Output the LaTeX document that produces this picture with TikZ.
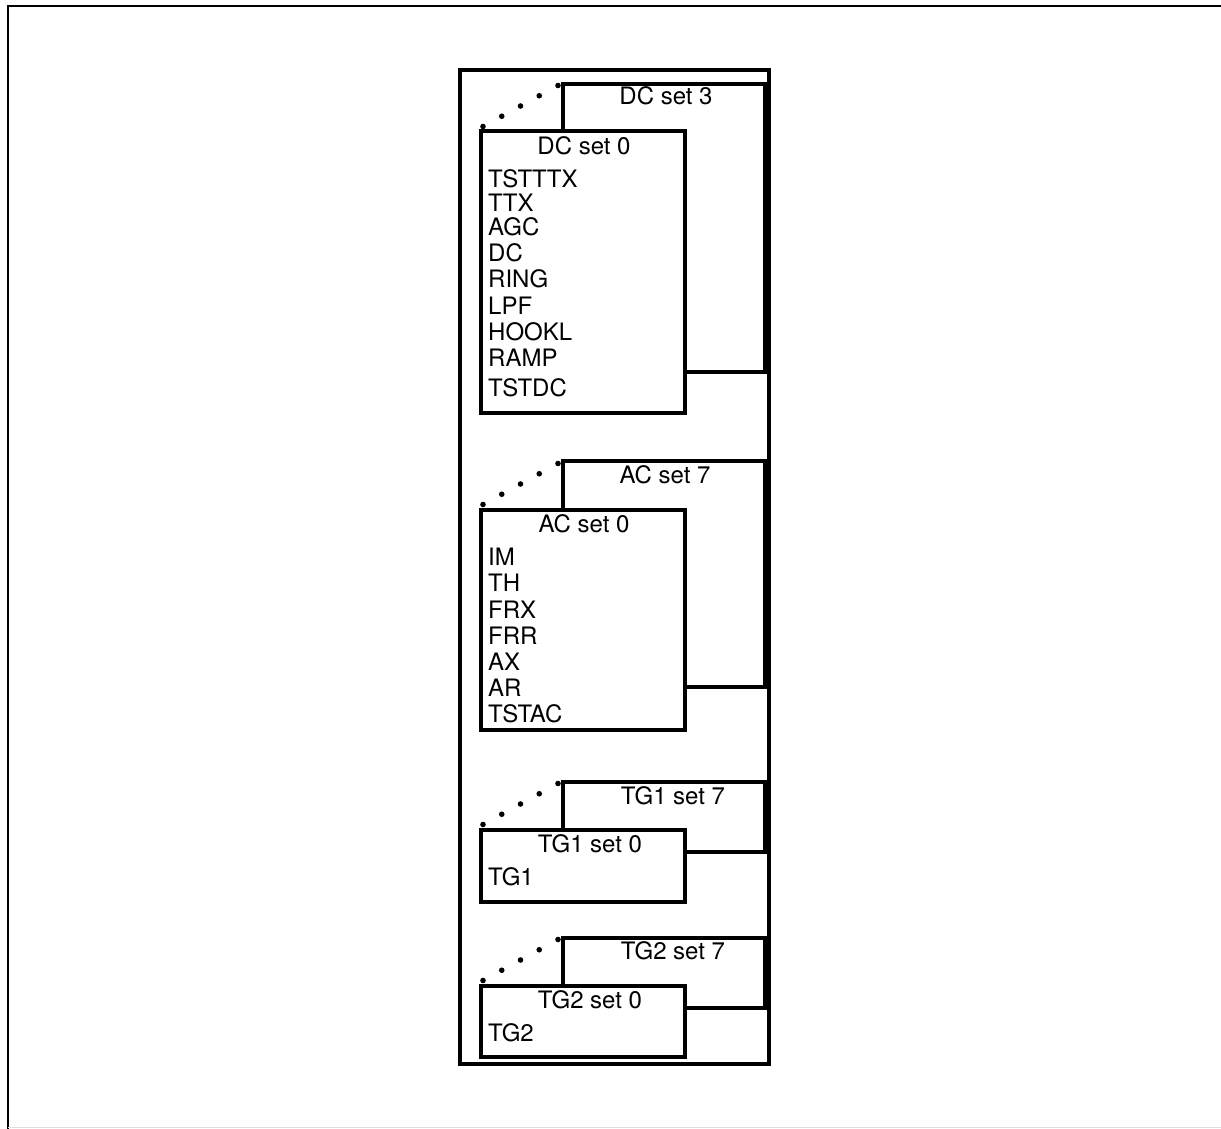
\documentclass[tikz,border=0pt]{standalone}
\usepackage{fontspec}
\setmainfont{TeX Gyre Heros}
\tikzset{
  frontbox/.style={draw, fill=white, line width=3.3pt, inner sep=0pt, outer sep=0pt, anchor=north west},
  backline/.style={line width=3.3pt, line join=miter},
  lbl/.style={anchor=base, inner sep=0pt, font=\fontsize{24}{24}\selectfont},
  item/.style={anchor=base west, inner sep=0pt, font=\fontsize{24}{24}\selectfont},
  dot/.style={fill=black}
}
\begin{document}
\begin{tikzpicture}[x=1pt,y=-1pt]
\useasboundingbox (0,0) rectangle (1221,1129);
% page frame
\draw[line width=2pt] (8,1129) -- (8,6) -- (1221,6);
\draw[black!12, line width=1pt] (8,1127.5) -- (1221,1127.5);
% outer rectangle
\draw[line width=3.3pt] (460,70) rectangle (769,1064);

% ---------- DC group ----------
\draw[backline] (563,131) -- (563,84) -- (765,84) -- (765,372) -- (685,372);
\node[frontbox, minimum width=204pt, minimum height=282pt] (dc0) at (481,131) {};
\node[lbl] (dc3t) at (666,105) {DC set 3};
\node[lbl] (dc0t) at (584,155) {DC set 0};
\node[item] (i1) at (488,187) {TSTTTX};
\node[item] (i2) at (488,211) {TTX};
\node[item] (i3) at (488,235) {AGC};
\node[item] (i4) at (488,261) {DC};
\node[item] (i5) at (488,287) {RING};
\node[item] (i6) at (488,314) {LPF};
\node[item] (i7) at (488,340) {HOOKL};
\node[item] (i8) at (488,366) {RAMP};
\node[item] (i9) at (488,396) {TSTDC};
\foreach \t in {0,0.25,0.5,0.75,1}
  \fill[dot] ({483+75*\t},{126.5-41*\t}) circle (2.8pt);

% ---------- AC group ----------
\draw[backline] (563,510) -- (563,461) -- (765,461) -- (765,687) -- (685,687);
\node[frontbox, minimum width=204pt, minimum height=220pt] (ac0) at (481,510) {};
\node[lbl] (ac7t) at (665,483) {AC set 7};
\node[lbl] (ac0t) at (584,532) {AC set 0};
\node[item] (a1) at (488,565) {IM};
\node[item] (a2) at (488,591) {TH};
\node[item] (a3) at (488,618) {FRX};
\node[item] (a4) at (488,644) {FRR};
\node[item] (a5) at (488,670) {AX};
\node[item] (a6) at (488,696) {AR};
\node[item] (a7) at (488,722) {TSTAC};
\foreach \t in {0,0.25,0.5,0.75,1}
  \fill[dot] ({483+75*\t},{504.5-41*\t}) circle (2.8pt);

% ---------- TG1 group ----------
\draw[backline] (563,830) -- (563,782) -- (765,782) -- (765,852) -- (685,852);
\node[frontbox, minimum width=204pt, minimum height=72pt] (tg10) at (481,830) {};
\node[lbl] (tg17t) at (673,804) {TG1 set 7};
\node[lbl] (tg10t) at (590,852) {TG1 set 0};
\node[item] (t1) at (488,885) {TG1};
\foreach \t in {0,0.25,0.5,0.75,1}
  \fill[dot] ({483+75*\t},{824.5-41*\t}) circle (2.8pt);

% ---------- TG2 group ----------
\draw[backline] (563,986) -- (563,938) -- (765,938) -- (765,1008) -- (685,1008);
\node[frontbox, minimum width=204pt, minimum height=71pt] (tg20) at (481,986) {};
\node[lbl] (tg27t) at (673,959) {TG2 set 7};
\node[lbl] (tg20t) at (590,1008) {TG2 set 0};
\node[item] (t2) at (488,1041) {TG2};
\foreach \t in {0,0.25,0.5,0.75,1}
  \fill[dot] ({483+75*\t},{980.5-41*\t}) circle (2.8pt);
\end{tikzpicture}
\end{document}
